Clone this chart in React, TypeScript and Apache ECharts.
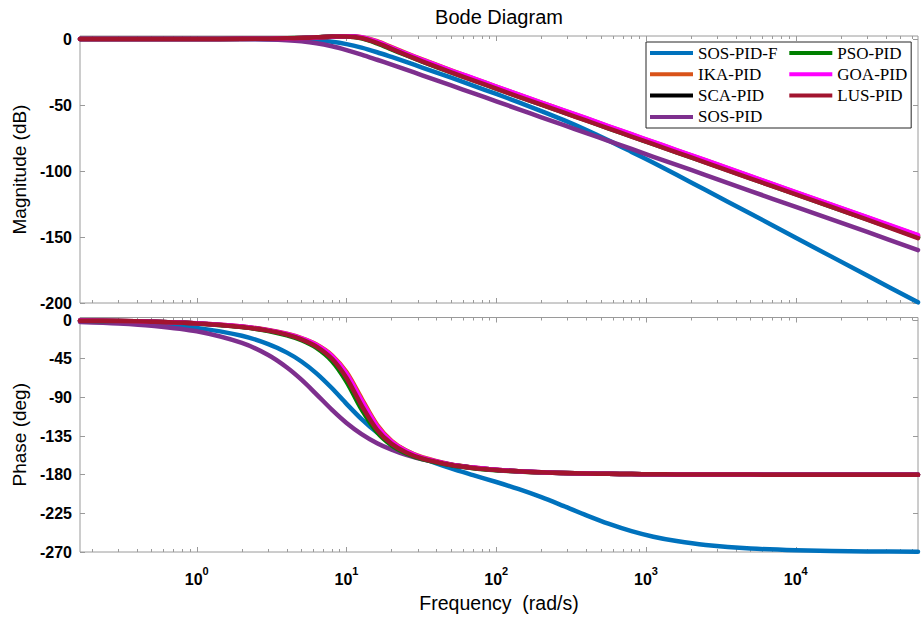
import React, { useEffect, useRef } from "react";
import * as echarts from "echarts";

// Frequency samples (rad/s) shared by every response curve
const freq = [0.166, 0.3, 0.5, 1, 2, 3, 4, 5, 6.3, 8, 10, 12.6, 16, 20, 25, 32, 50, 70, 100, 140, 200, 280, 400, 560, 800, 1120, 1600, 2500, 5000, 10000, 30000, 65500];

const seriesNames = ["SOS-PID-F", "IKA-PID", "SCA-PID", "SOS-PID", "PSO-PID", "GOA-PID", "LUS-PID"];
const seriesColors = ["#0072BD", "#D95319", "#000000", "#7E2F8E", "#008000", "#FF00FF", "#A2142F"];

// Magnitude (dB)
const magSosPidF = [0, 0, 0, 0, -0.02, -0.08, -0.2, -0.43, -0.95, -2.05, -3.84, -6.55, -10, -13.6, -17.3, -21.6, -29.3, -35.3, -41.6, -47.8, -54.6, -61.3, -69.0, -76.8, -85.5, -93.8, -102.9, -114.4, -132.4, -150.5, -179.2, -199.5];
const magIkaPid = [0, 0, 0, 0.03, 0.12, 0.28, 0.48, 0.74, 1.15, 1.65, 2.05, 1.4, -1.63, -6.1, -10.6, -15.4, -23.7, -29.8, -36, -42.0, -48.2, -54.0, -60.2, -66.1, -72.3, -78.1, -84.3, -92.0, -104.1, -116.1, -135.2, -148.8];
const magScaPid = [0, 0, 0, 0.03, 0.13, 0.3, 0.52, 0.8, 1.25, 1.8, 2.1, 1.1, -2.4, -6.9, -11.4, -16.2, -24.5, -30.5, -36.7, -42.7, -48.9, -54.7, -60.9, -66.8, -73.0, -78.8, -85.0, -92.7, -104.8, -116.8, -135.9, -150];
const magSosPid = [0, 0, 0, -0.03, -0.13, -0.39, -0.89, -1.68, -3.13, -5.47, -8.35, -11.8, -15.7, -19.4, -23.2, -27.5, -35.2, -41.0, -47.2, -53.1, -59.3, -65.1, -71.3, -77.1, -83.3, -89.2, -95.3, -103.1, -115.2, -127.2, -146.2, -159.9];
const magPsoPid = [0, 0, 0, 0.04, 0.15, 0.33, 0.57, 0.88, 1.38, 1.95, 1.9, 0.5, -3.3, -7.8, -12.3, -17.1, -25.3, -31.2, -37.5, -43.5, -49.7, -55.5, -61.7, -67.6, -73.8, -79.6, -85.8, -93.5, -105.6, -117.6, -136.7, -150.3];
const magGoaPid = [0, 0, 0, 0.03, 0.13, 0.3, 0.5, 0.78, 1.2, 1.75, 2.15, 1.3, -2.0, -6.5, -11, -15.7, -23.9, -29.6, -36, -41.9, -48.1, -53.9, -60.0, -65.9, -72.1, -77.9, -84.1, -91.8, -103.9, -115.9, -135, -148.6];
const magLusPid = [0, 0, 0, 0.03, 0.14, 0.31, 0.54, 0.83, 1.3, 1.85, 2.0, 0.8, -2.9, -7.4, -12, -16.9, -25.2, -31.3, -37.5, -43.6, -49.7, -55.6, -61.8, -67.7, -73.85, -79.7, -85.9, -93.6, -105.7, -117.7, -136.8, -150.8];

// Phase (deg)
const phSosPidF = [-1.5, -2.7, -4.5, -9.1, -18.3, -27.9, -37.9, -48.2, -62, -79.4, -97.5, -115.3, -131, -142.8, -152.2, -160.7, -172.7, -180.5, -188.5, -196.6, -206.2, -216.3, -227.3, -237.0, -245.7, -252.2, -257.3, -261.8, -265.9, -267.9, -269.3, -269.7];
const phIkaPid = [-0.6, -1.1, -1.8, -3.7, -7.5, -11.5, -15.9, -20.9, -28.4, -41, -60.6, -91.1, -121.9, -140.6, -151.9, -159.7, -168, -171.6, -174.2, -175.9, -177.1, -177.95, -178.6, -179.0, -179.3, -179.5, -179.65, -179.8, -179.9, -180, -180, -180];
const phScaPid = [-0.63, -1.15, -1.9, -3.84, -7.8, -12, -16.7, -22, -30.1, -43.8, -65.4, -97, -126.1, -143.1, -153.5, -160.8, -168.5, -171.95, -174.4, -176.0, -177.3, -178.0, -178.6, -179.0, -179.3, -179.5, -179.65, -179.8, -179.9, -180, -180, -180];
const phSosPid = [-2.2, -3.9, -6.5, -13.1, -26.6, -40.7, -55.2, -69.4, -86.4, -104.5, -119.7, -132.7, -143.3, -150.9, -157, -162.1, -168.6, -171.9, -174.3, -175.95, -177.2, -178.0, -178.6, -179.0, -179.3, -179.5, -179.65, -179.8, -179.9, -180, -180, -180];
const phPsoPid = [-0.67, -1.2, -2.0, -4.05, -8.2, -12.7, -17.8, -23.5, -32.5, -47.9, -71.8, -104, -130.8, -146, -155.3, -161.9, -169.1, -172.4, -174.7, -176.3, -177.4, -178.1, -178.6, -179.0, -179.3, -179.5, -179.65, -179.8, -179.9, -180, -180, -180];
const phGoaPid = [-0.62, -1.12, -1.86, -3.75, -7.6, -11.7, -16.2, -21.3, -29, -42, -62.5, -93.4, -123.6, -141.7, -152.5, -160.2, -168.3, -171.75, -174.3, -176.0, -177.2, -178.0, -178.6, -179.0, -179.3, -179.5, -179.65, -179.8, -179.9, -180, -180, -180];
const phLusPid = [-0.64, -1.17, -1.94, -3.9, -7.95, -12.3, -17, -22.4, -30.8, -45.1, -67.4, -99.3, -127.7, -144.1, -154.1, -161.1, -168.7, -172.1, -174.5, -176.1, -177.3, -178.0, -178.6, -179.0, -179.3, -179.5, -179.65, -179.8, -179.9, -180, -180, -180];

const magnitudes = [magSosPidF, magIkaPid, magScaPid, magSosPid, magPsoPid, magGoaPid, magLusPid];
const phases = [phSosPidF, phIkaPid, phScaPid, phSosPid, phPsoPid, phGoaPid, phLusPid];

// Axis ranges and ticks
const freqMin = 0.166;
const freqMax = 65500;
const freqMajorTicks = [1, 10, 100, 1000, 10000];
const freqMinorTicks = [
  0.2, 0.3, 0.4, 0.5, 0.6, 0.7, 0.8, 0.9,
  2, 3, 4, 5, 6, 7, 8, 9,
  20, 30, 40, 50, 60, 70, 80, 90,
  200, 300, 400, 500, 600, 700, 800, 900,
  2000, 3000, 4000, 5000, 6000, 7000, 8000, 9000,
  20000, 30000, 40000, 50000, 60000,
];
const magMin = -200;
const magMax = 2.3;
const magTicks = [-200, -150, -100, -50, 0];
const phaseMin = -270;
const phaseMax = 3;
const phaseTicks = [-270, -225, -180, -135, -90, -45, 0];

const SANS = "'Liberation Sans', Arial, Helvetica, sans-serif";
const SERIF = "'Liberation Serif', 'Times New Roman', serif";
const FRAME = "#9a9a9a";

function buildOption() {
  const grids = [
    { left: 80, right: 5, top: 36, height: 267, show: true, borderColor: FRAME, borderWidth: 1, backgroundColor: "transparent" },
    { left: 80, right: 5, top: 317.5, height: 234.5, show: true, borderColor: FRAME, borderWidth: 1, backgroundColor: "transparent" },
  ];

  // Four frequency axes per plot: major and minor ticks along the bottom and top edges
  const xAxes: any[] = [];
  [0, 1].forEach((gi) => {
    ["bottom", "top"].forEach((pos) => {
      [
        { ticks: freqMajorTicks, len: 5 },
        { ticks: freqMinorTicks, len: 3 },
      ].forEach((t, k) => {
        const labelled = gi === 1 && pos === "bottom" && k === 0;
        xAxes.push({
          type: "log",
          logBase: 10,
          gridIndex: gi,
          position: pos,
          min: freqMin,
          max: freqMax,
          axisLine: { show: false, onZero: false },
          splitLine: { show: false },
          axisTick: { show: true, inside: true, length: t.len, customValues: t.ticks, lineStyle: { color: FRAME, width: 1 } },
          axisLabel: labelled
            ? {
                show: true,
                customValues: freqMajorTicks,
                margin: 13,
                formatter: (v: number) => `{b|10}{e|${Math.round(Math.log10(v))}}`,
                rich: {
                  b: { fontFamily: SANS, fontSize: 16, fontWeight: "bold", color: "#000", lineHeight: 22, verticalAlign: "bottom" },
                  e: { fontFamily: SANS, fontSize: 11, fontWeight: "bold", color: "#000", lineHeight: 12, verticalAlign: "top" },
                },
              }
            : { show: false },
          name: labelled ? "Frequency  (rad/s)" : "",
          nameLocation: "middle",
          nameGap: 41,
          nameTextStyle: { fontFamily: SANS, fontSize: 19.5, color: "#000" },
        });
      });
    });
  });

  const yAxis = (gi: number, pos: string, min: number, max: number, ticks: number[], name: string) => ({
    type: "value",
    gridIndex: gi,
    position: pos,
    min,
    max,
    axisLine: { show: false, onZero: false },
    splitLine: { show: false },
    axisTick: { show: true, inside: true, length: 5, customValues: ticks, lineStyle: { color: FRAME, width: 1 } },
    axisLabel:
      pos === "left"
        ? { show: true, customValues: ticks, margin: 8, fontFamily: SANS, fontSize: 16, fontWeight: "bold", color: "#000" }
        : { show: false },
    name: pos === "left" ? name : "",
    nameLocation: "middle",
    nameGap: 49,
    nameTextStyle: { fontFamily: SANS, fontSize: 19, color: "#000" },
  });

  const yAxes = [
    yAxis(0, "left", magMin, magMax, magTicks, "Magnitude (dB)"),
    yAxis(0, "right", magMin, magMax, magTicks, ""),
    yAxis(1, "left", phaseMin, phaseMax, phaseTicks, "Phase (deg)"),
    yAxis(1, "right", phaseMin, phaseMax, phaseTicks, ""),
  ];

  const line = (name: string, color: string, xi: number, yi: number, values: number[]) => ({
    name,
    type: "line",
    xAxisIndex: xi,
    yAxisIndex: yi,
    data: freq.map((f, j) => [f, values[j]]),
    symbol: "none",
    showSymbol: false,
    smooth: 0.3,
    clip: true,
    color,
    lineStyle: { color, width: 4.5, join: "round", cap: "round" },
    itemStyle: { color },
    emphasis: { disabled: true },
  });

  const series = [
    ...seriesNames.map((n, i) => line(n, seriesColors[i], 0, 0, magnitudes[i])),
    ...seriesNames.map((n, i) => line(n, seriesColors[i], 4, 2, phases[i])),
  ];

  // Column-major legend: the first column's labels get a fixed width so the
  // second column starts at the same place on every row
  const legendData = seriesNames.map((n, i) => (i < 4 ? { name: n, textStyle: { width: 91 } } : { name: n }));

  return {
    animation: false,
    grid: grids,
    xAxis: xAxes,
    yAxis: yAxes,
    series,
    legend: {
      show: true,
      data: legendData,
      orient: "vertical",
      left: 646,
      top: 42,
      height: 85,
      padding: [0.5, 4, 0.6, 4],
      itemGap: 0.3,
      itemWidth: 43,
      itemHeight: 4,
      icon: "rect",
      selectedMode: false,
      backgroundColor: "#ffffff",
      borderColor: "#262626",
      borderWidth: 1,
      borderRadius: 0,
      textStyle: { fontFamily: SERIF, fontSize: 17, color: "#000", lineHeight: 21 },
      z: 5,
    },
    graphic: [
      {
        type: "text",
        x: 499,
        y: 17,
        style: { text: "Bode Diagram", fontFamily: SANS, fontSize: 20, fill: "#000", align: "center", verticalAlign: "middle" },
      },
    ],
  };
}

export default function App() {
  const ref = useRef<HTMLDivElement>(null);
  useEffect(() => {
    if (!ref.current) return;
    const chart = echarts.init(ref.current, undefined, { renderer: "svg" });
    chart.setOption(buildOption() as any);
    return () => chart.dispose();
  }, []);
  return (
    <div
      ref={ref}
      style={{ position: "fixed", left: 0, top: 0, width: 923, height: 617, background: "#fff" }}
    />
  );
}
